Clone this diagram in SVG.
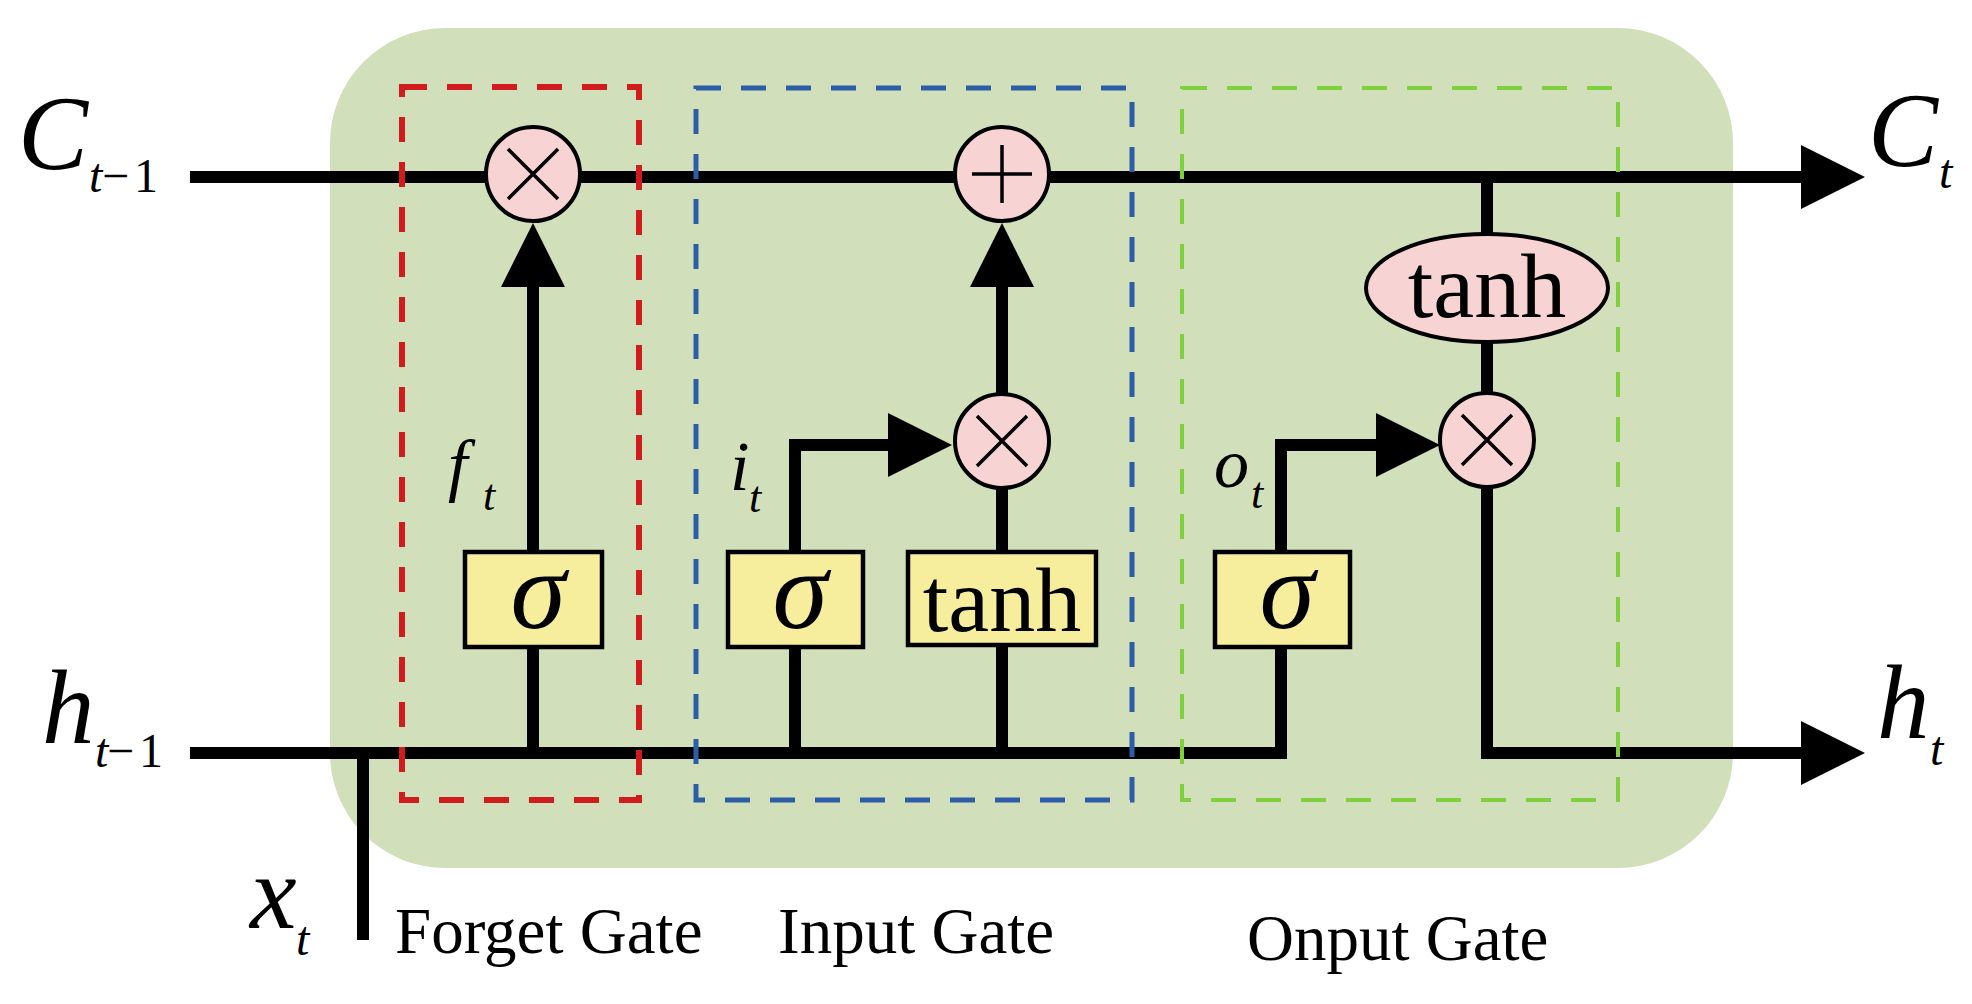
<svg xmlns="http://www.w3.org/2000/svg" width="1972" height="1004" viewBox="0 0 1972 1004">
<defs>
<marker id="arrow" markerUnits="userSpaceOnUse" markerWidth="64" markerHeight="64" viewBox="0 0 64 64" refX="1" refY="32" orient="auto">
<path d="M0,0 L64,32 L0,64 Z" fill="#000"/>
</marker>
<style>
.wire{fill:none;stroke:#000;stroke-width:12;stroke-linejoin:miter}
.op{fill:#f7d3d3;stroke:#000;stroke-width:4}
.sym{stroke:#000;stroke-width:3.5;fill:none}
.fn{fill:#f7ee9d;stroke:#000;stroke-width:4.5}
.dash{fill:none;stroke-dasharray:25 20}
.it{font-family:"Liberation Serif","Times New Roman",serif;font-style:italic;fill:#000}
.rm{font-family:"Liberation Serif","Times New Roman",serif;fill:#000}
.big{font-size:105px}
.sub{font-size:48px}
.lab{font-size:70px}
.sub2{font-size:44px}
.gate{font-size:65px}
.sig{font-size:112px;text-anchor:middle}
.tanh{font-size:92px;text-anchor:middle}
</style>
</defs>
<rect id="cell" x="330" y="28" width="1403" height="840" rx="115" ry="115" fill="#d2dfbb"/>

<g id="connectors">
<path class="wire" d="M190,177 H1802" marker-end="url(#arrow)"/>
<path class="wire" d="M190,753 H1281 V647"/>
<path class="wire" d="M363,940 V753"/>
<path class="wire" d="M533,753 V647"/>
<path class="wire" d="M533,552 V286" marker-end="url(#arrow)"/>
<path class="wire" d="M795,753 V647"/>
<path class="wire" d="M795,552 V445 H889" marker-end="url(#arrow)"/>
<path class="wire" d="M1002,753 V645"/>
<path class="wire" d="M1002,552 V488"/>
<path class="wire" d="M1002,394 V286" marker-end="url(#arrow)"/>
<path class="wire" d="M1281,552 V445 H1377" marker-end="url(#arrow)"/>
<path class="wire" d="M1487,177 V234"/>
<path class="wire" d="M1487,342 V393"/>
<path class="wire" d="M1487,487 V753 H1802" marker-end="url(#arrow)"/>
</g>

<g id="gate-boxes">
<rect id="forget-box" class="dash" x="402" y="87" width="237" height="713" stroke="#d01c1c" stroke-width="6"/>
<rect id="input-box" class="dash" x="696" y="88" width="436" height="712" stroke="#2c5ea8" stroke-width="5"/>
<rect id="output-box" class="dash" x="1182" y="88" width="436" height="712" stroke="#7fd03e" stroke-width="4"/>
</g>

<g id="forget-mul">
<circle class="op" cx="533" cy="174" r="47"/>
<path class="sym" d="M508,149 L558,199 M558,149 L508,199"/>
</g>
<g id="forget-sigma">
<rect class="fn" x="465" y="552" width="137" height="95"/>
<text class="it sig" x="538" y="628">σ</text>
</g>
<g id="input-sigma">
<rect class="fn" x="728" y="552" width="135" height="95"/>
<text class="it sig" x="800" y="628">σ</text>
</g>
<g id="input-tanh">
<rect class="fn" x="908" y="552" width="188" height="93"/>
<text class="rm tanh" x="1002" y="631">tanh</text>
</g>
<g id="input-mul">
<circle class="op" cx="1002" cy="441" r="47"/>
<path class="sym" d="M977,416 L1027,466 M1027,416 L977,466"/>
</g>
<g id="add">
<circle class="op" cx="1002" cy="174" r="47"/>
<path class="sym" d="M972,174 H1032 M1002,145 V203"/>
</g>
<g id="output-sigma">
<rect class="fn" x="1215" y="552" width="135" height="95"/>
<text class="it sig" x="1287" y="628">σ</text>
</g>
<g id="output-tanh">
<ellipse class="op" cx="1487" cy="288" rx="121" ry="54"/>
<text class="rm tanh" x="1487" y="317">tanh</text>
</g>
<g id="output-mul">
<circle class="op" cx="1487" cy="440" r="47"/>
<path class="sym" d="M1462,415 L1512,465 M1512,415 L1462,465"/>
</g>

<g id="labels">
<text class="it big" x="18" y="169">C</text>
<text class="sub" y="192"><tspan class="it" x="89">t</tspan><tspan class="rm" x="102">−</tspan><tspan class="rm" x="134">1</tspan></text>
<text class="it big" x="1868" y="166">C</text>
<text class="it sub" x="1939" y="188">t</text>
<text class="it big" x="42" y="743">h</text>
<text class="sub" y="767"><tspan class="it" x="95">t</tspan><tspan class="rm" x="107">−</tspan><tspan class="rm" x="139">1</tspan></text>
<text class="it big" x="1877" y="738">h</text>
<text class="it sub" x="1930" y="765">t</text>
<text class="it big" x="250" y="928">x</text>
<text class="it sub" x="296" y="955">t</text>
<text class="it lab" x="448" y="488">f</text>
<text class="it sub2" x="483" y="510">t</text>
<text class="it lab" x="730" y="490">i</text>
<text class="it sub2" x="749" y="512">t</text>
<text class="it lab" x="1214" y="487">o</text>
<text class="it sub2" x="1251" y="508">t</text>
<text class="rm gate" x="395" y="953">Forget Gate</text>
<text class="rm gate" x="778" y="953">Input Gate</text>
<text class="rm gate" x="1247" y="960">Onput Gate</text>
</g>
</svg>
